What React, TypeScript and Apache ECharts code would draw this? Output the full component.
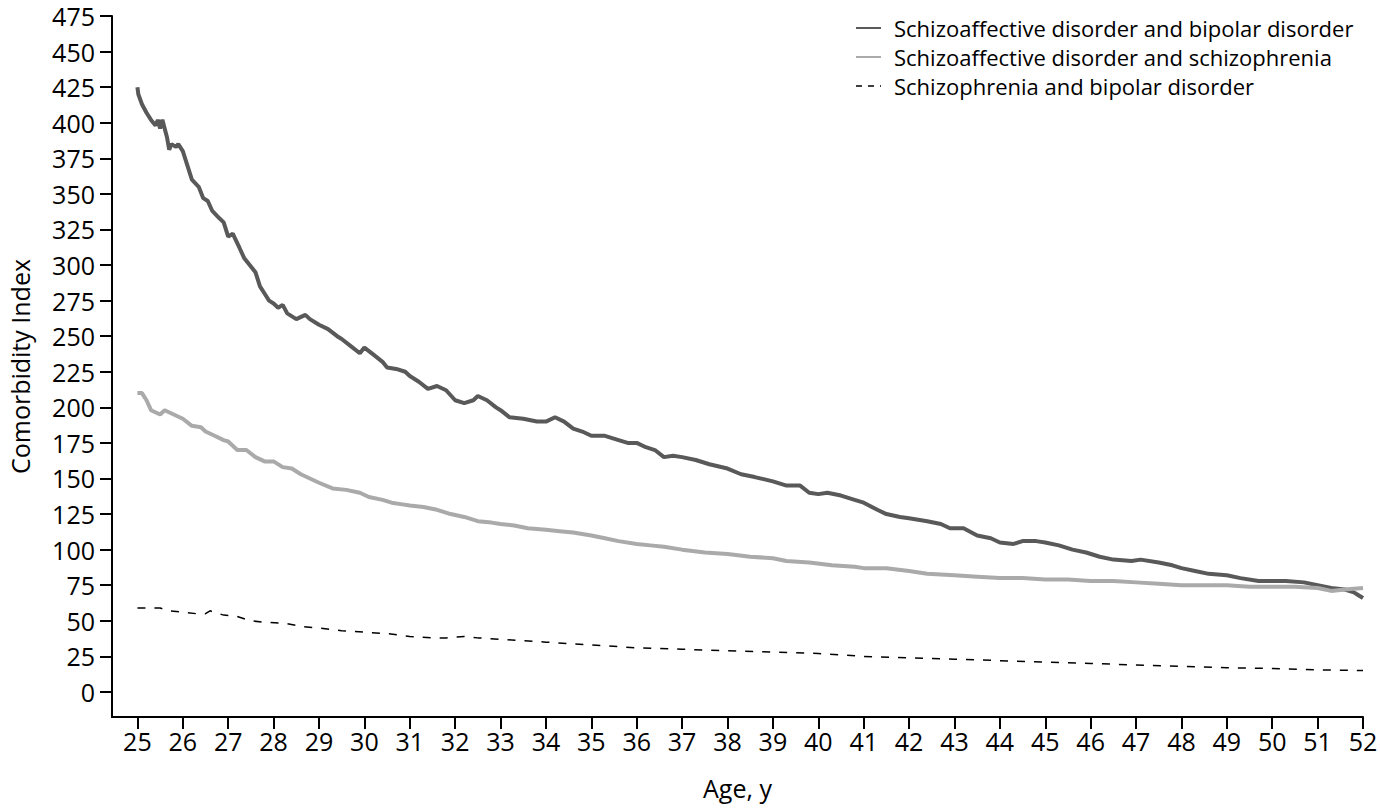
import React, { useEffect, useRef } from "react";
import * as echarts from "echarts";

const seriesNames = [
  "Schizoaffective disorder and bipolar disorder",
  "Schizoaffective disorder and schizophrenia",
  "Schizophrenia and bipolar disorder",
];

const xTicks = Array.from({ length: 28 }, (_, i) => 25 + i);
const yTicks = Array.from({ length: 20 }, (_, i) => i * 25);

const darkAge = [25.0, 25.02, 25.1, 25.2, 25.3, 25.4, 25.45, 25.5, 25.55, 25.65, 25.7, 25.75, 25.85, 25.9, 26.0, 26.1, 26.2, 26.35, 26.45, 26.55, 26.65, 26.8, 26.9, 27.0, 27.1, 27.25, 27.35, 27.5, 27.6, 27.7, 27.8, 27.9, 28.0, 28.1, 28.2, 28.3, 28.5, 28.7, 28.8, 29.0, 29.2, 29.4, 29.5, 29.7, 29.9, 30.0, 30.2, 30.4, 30.5, 30.7, 30.9, 31.0, 31.2, 31.4, 31.6, 31.8, 32.0, 32.2, 32.4, 32.5, 32.7, 32.9, 33.0, 33.2, 33.5, 33.8, 34.0, 34.2, 34.4, 34.6, 34.8, 35.0, 35.3, 35.6, 35.8, 36.0, 36.2, 36.4, 36.6, 36.8, 37.0, 37.3, 37.6, 38.0, 38.3, 38.6, 39.0, 39.3, 39.6, 39.8, 40.0, 40.2, 40.5, 40.8, 41.0, 41.3, 41.5, 41.8, 42.0, 42.4, 42.7, 42.9, 43.2, 43.5, 43.8, 44.0, 44.3, 44.5, 44.8, 45.0, 45.3, 45.6, 45.9, 46.2, 46.5, 46.9, 47.1, 47.5, 47.8, 48.0, 48.3, 48.6, 49.0, 49.3, 49.7, 50.0, 50.3, 50.7, 51.0, 51.3, 51.6, 51.8, 51.9, 52.0];
const darkVal = [425, 420, 413, 407, 402, 398, 402, 396, 402, 390, 381, 385, 383, 385, 380, 370, 360, 355, 347, 345, 338, 333, 330, 320, 322, 312, 305, 299, 295, 285, 280, 275, 273, 270, 272, 266, 262, 265, 262, 258, 255, 250, 248, 243, 238, 242, 237, 232, 228, 227, 225, 222, 218, 213, 215, 212, 205, 203, 205, 208, 205, 200, 198, 193, 192, 190, 190, 193, 190, 185, 183, 180, 180, 177, 175, 175, 172, 170, 165, 166, 165, 163, 160, 157, 153, 151, 148, 145, 145, 140, 139, 140, 138, 135, 133, 128, 125, 123, 122, 120, 118, 115, 115, 110, 108, 105, 104, 106, 106, 105, 103, 100, 98, 95, 93, 92, 93, 91, 89, 87, 85, 83, 82, 80, 78, 78, 78, 77, 75, 73, 72, 70, 68, 66];

const lightAge = [25.0, 25.1, 25.2, 25.3, 25.5, 25.6, 25.8, 26.0, 26.2, 26.4, 26.5, 26.7, 26.9, 27.0, 27.2, 27.4, 27.6, 27.8, 28.0, 28.2, 28.4, 28.6, 28.8, 29.0, 29.3, 29.6, 29.9, 30.1, 30.4, 30.6, 30.8, 31.0, 31.3, 31.6, 31.9, 32.2, 32.5, 32.8, 33.0, 33.3, 33.6, 34.0, 34.3, 34.6, 35.0, 35.3, 35.6, 36.0, 36.3, 36.6, 37.0, 37.5, 38.0, 38.5, 39.0, 39.3, 39.8, 40.3, 40.8, 41.0, 41.5, 42.0, 42.4, 43.0, 43.5, 44.0, 44.5, 45.0, 45.5, 46.0, 46.5, 47.0, 47.5, 48.0, 48.5, 49.0, 49.5, 50.0, 50.5, 51.0, 51.3, 51.6, 52.0];
const lightVal = [210, 210, 205, 198, 195, 198, 195, 192, 187, 186, 183, 180, 177, 176, 170, 170, 165, 162, 162, 158, 157, 153, 150, 147, 143, 142, 140, 137, 135, 133, 132, 131, 130, 128, 125, 123, 120, 119, 118, 117, 115, 114, 113, 112, 110, 108, 106, 104, 103, 102, 100, 98, 97, 95, 94, 92, 91, 89, 88, 87, 87, 85, 83, 82, 81, 80, 80, 79, 79, 78, 78, 77, 76, 75, 75, 75, 74, 74, 74, 73, 71, 72, 73];

const dashAge = [25.0, 25.5, 25.7, 26.0, 26.3, 26.5, 26.6, 26.9, 27.2, 27.5, 27.8, 28.3, 28.6, 29.0, 29.5, 30.0, 30.5, 31.0, 31.5, 31.8, 32.0, 32.2, 32.5, 33.0, 33.5, 34.0, 35.0, 36.0, 37.0, 38.0, 39.0, 40.0, 41.0, 42.0, 43.0, 44.0, 45.0, 46.0, 47.0, 48.0, 49.0, 50.0, 51.0, 52.0];
const dashVal = [59, 59, 57, 56, 55, 55, 57, 54, 53, 50, 49, 48, 46, 45, 43, 42, 41, 39, 38, 38, 38.5, 39, 38, 37, 36, 35, 33, 31, 30, 29, 28, 27, 25, 24, 23, 22, 21, 20, 19, 18, 17, 16.5, 15.5, 15];

const zip = (a: number[], b: number[]) => a.map((v, i) => [v, b[i]]);

const FONT = "'Open Sans', 'Noto Sans', sans-serif";

export default function App() {
  const ref = useRef<HTMLDivElement>(null);
  useEffect(() => {
    if (!ref.current) return;
    const chart = echarts.init(ref.current, undefined, { renderer: "svg" });
    chart.setOption({
      animation: false,
      backgroundColor: "#ffffff",
      textStyle: { fontFamily: FONT, color: "#000" },
      grid: { left: 112, right: 17, top: 16, bottom: 92, containLabel: false, outerBoundsMode: "none" },
      legend: {
        orient: "vertical",
        left: 855,
        top: 17,
        padding: 0,
        itemWidth: 25,
        itemHeight: 14,
        itemGap: 7,
        itemStyle: { opacity: 0 },
        textStyle: { fontFamily: FONT, fontSize: 22, lineHeight: 22, color: "#000", padding: [0, 0, 0, 8] },
        data: [
          { name: seriesNames[0] },
          { name: seriesNames[1] },
          { name: seriesNames[2], lineStyle: { type: [6, 6], width: 1.5, color: "#000" } },
        ],
      },
      xAxis: {
        type: "value",
        min: 24.44,
        max: 52,
        name: "Age, y",
        nameLocation: "middle",
        nameGap: 58,
        nameTextStyle: { fontFamily: FONT, fontSize: 25, color: "#000" },
        splitLine: { show: false },
        axisLine: { show: true, onZero: false, lineStyle: { color: "#000", width: 2 } },
        axisTick: { show: true, length: 12, lineStyle: { color: "#000", width: 2 }, customValues: xTicks },
        axisLabel: { fontFamily: FONT, fontSize: 25, color: "#000", margin: 11, customValues: xTicks },
      },
      yAxis: {
        type: "value",
        min: -17.6,
        max: 475,
        name: "Comorbidity Index",
        nameLocation: "middle",
        nameGap: 80,
        nameTextStyle: { fontFamily: FONT, fontSize: 25, color: "#000" },
        splitLine: { show: false },
        axisLine: { show: true, onZero: false, lineStyle: { color: "#000", width: 2 } },
        axisTick: { show: true, length: 12, lineStyle: { color: "#000", width: 2 }, customValues: yTicks },
        axisLabel: { fontFamily: FONT, fontSize: 25, color: "#000", margin: 17, customValues: yTicks },
      },
      series: [
        {
          name: seriesNames[0],
          type: "line",
          data: zip(darkAge, darkVal),
          showSymbol: false,
          symbol: "none",
          lineStyle: { color: "#595959", width: 4 },
          itemStyle: { color: "#595959" },
        },
        {
          name: seriesNames[1],
          type: "line",
          data: zip(lightAge, lightVal),
          showSymbol: false,
          symbol: "none",
          lineStyle: { color: "#aaaaaa", width: 4 },
          itemStyle: { color: "#aaaaaa" },
        },
        {
          name: seriesNames[2],
          type: "line",
          data: zip(dashAge, dashVal),
          showSymbol: false,
          symbol: "none",
          lineStyle: { color: "#000", width: 1.5, type: [8, 9] },
          itemStyle: { color: "#000" },
        },
      ],
    });
    return () => chart.dispose();
  }, []);
  return <div ref={ref} style={{ position: "absolute", left: 0, top: 0, width: 1380, height: 809 }} />;
}
